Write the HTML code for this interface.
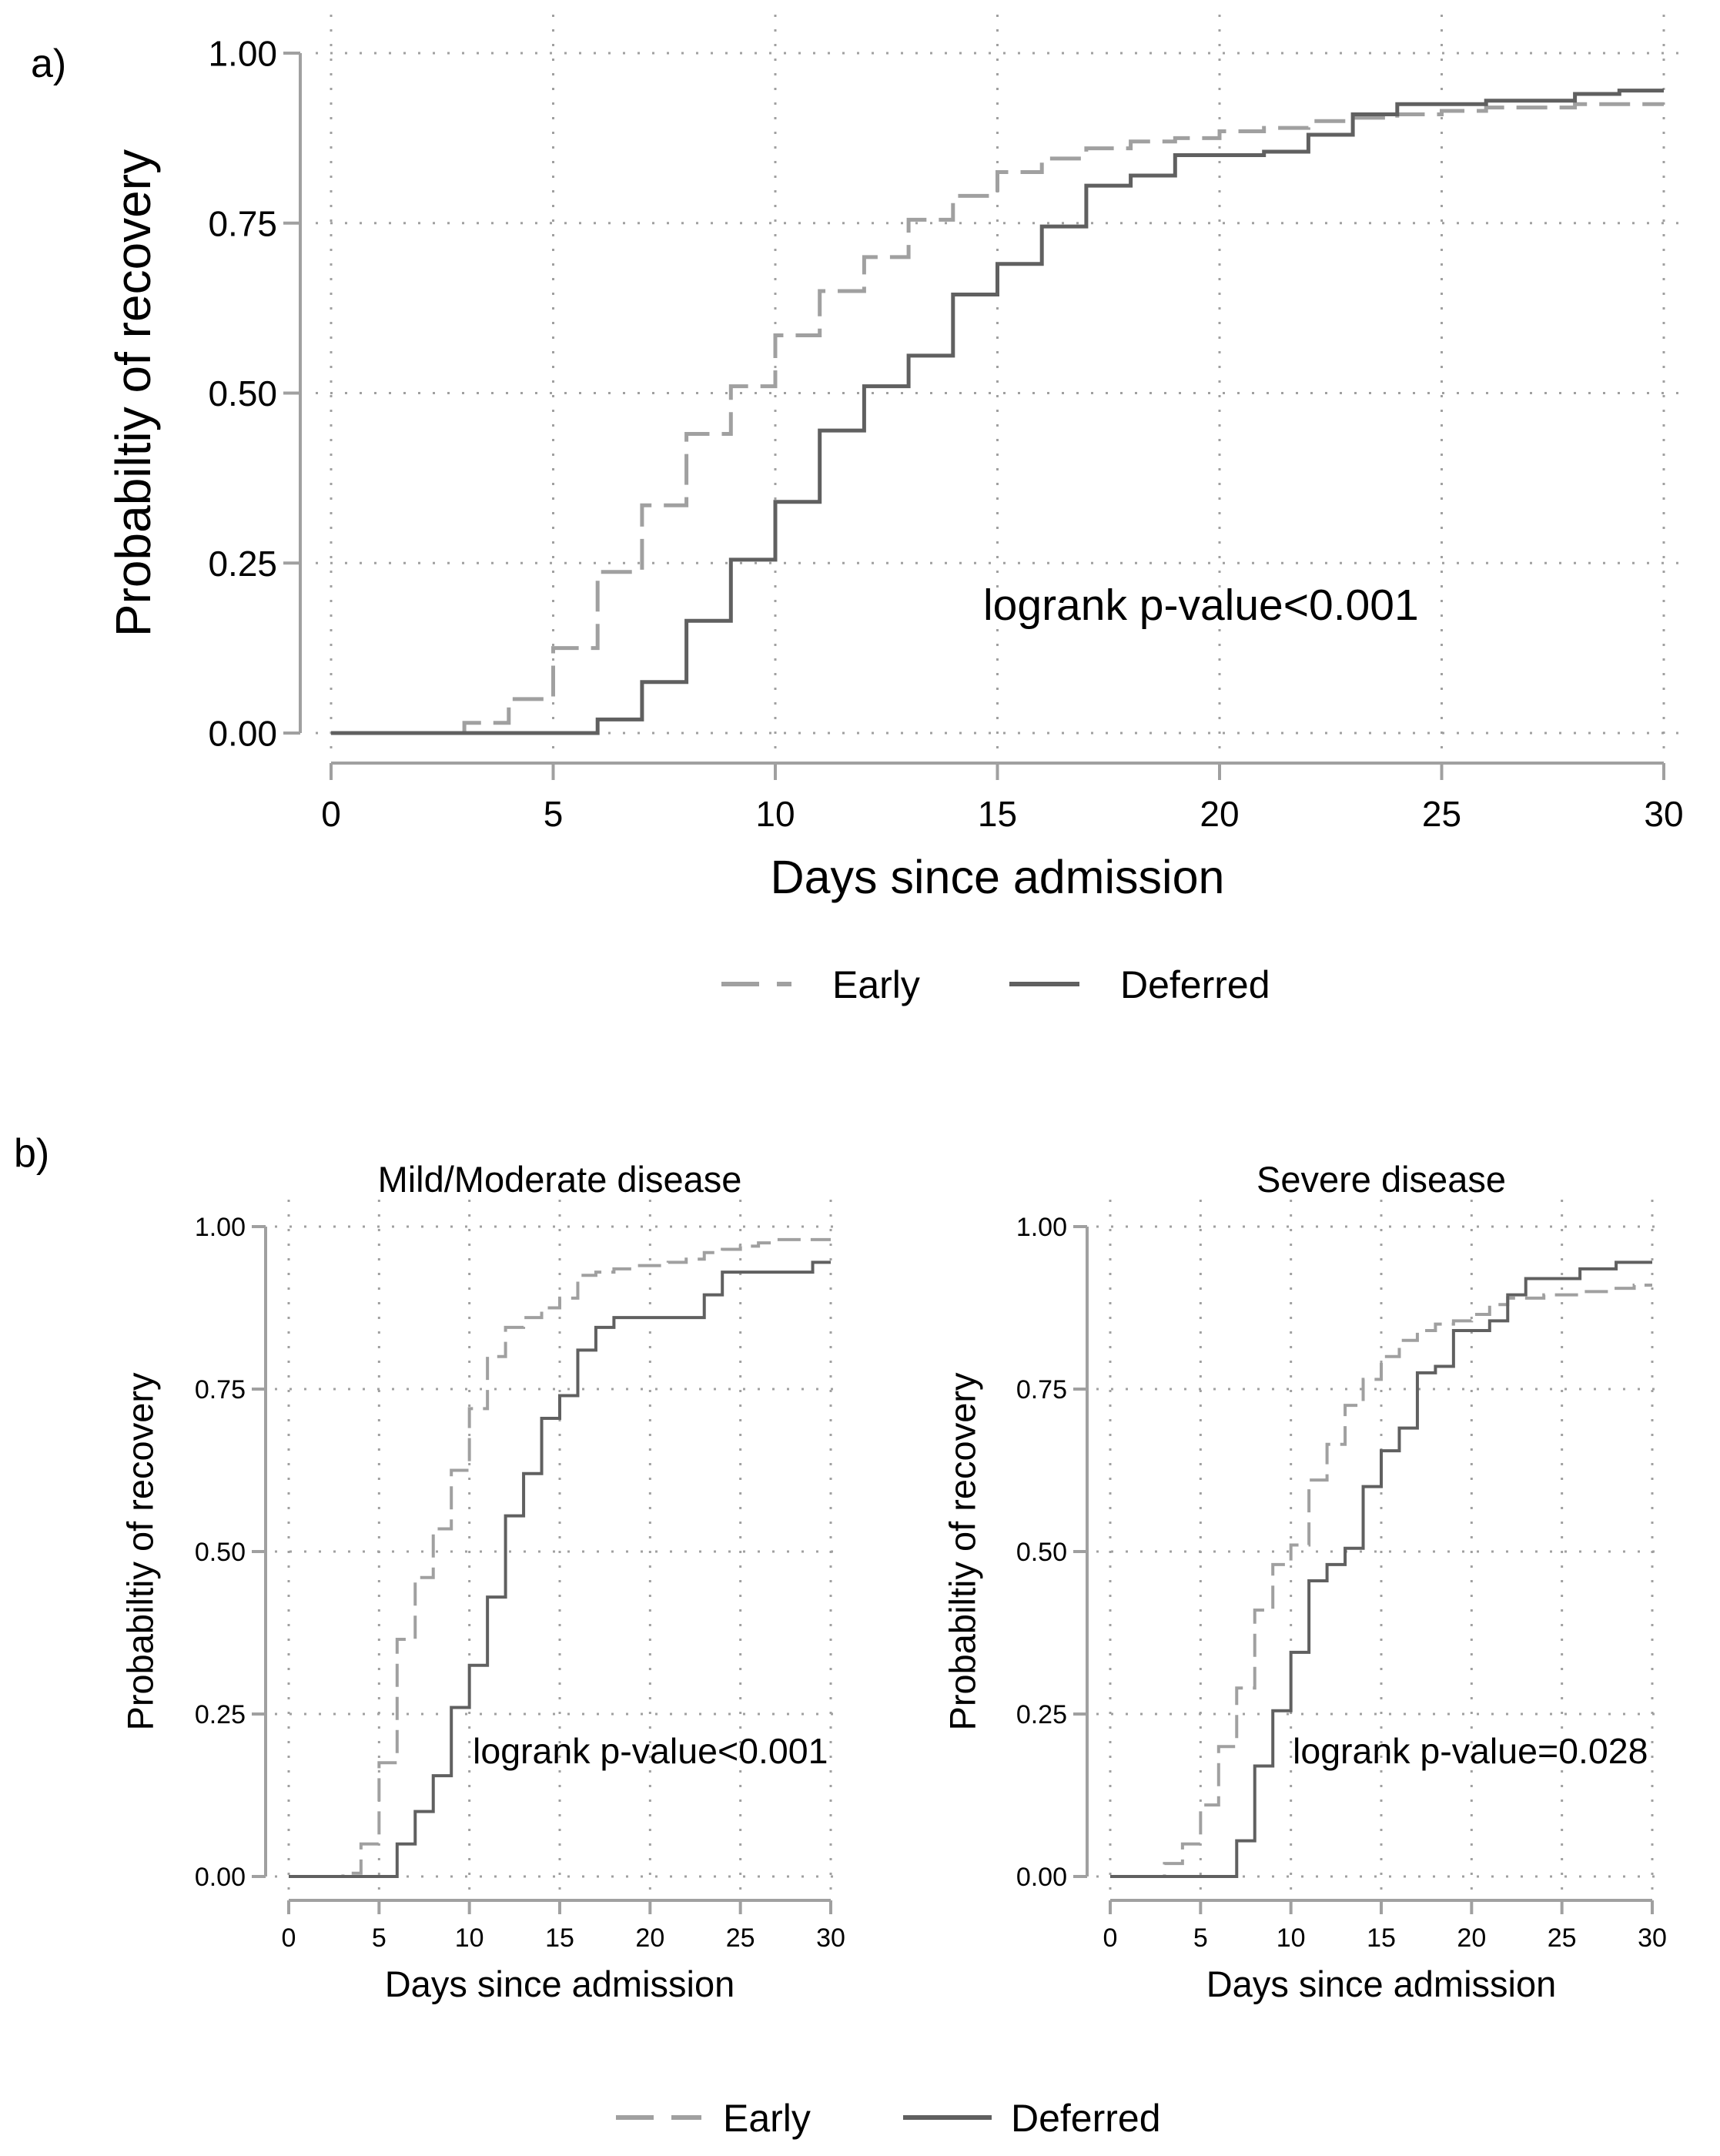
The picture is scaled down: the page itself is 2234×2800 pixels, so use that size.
<!DOCTYPE html>
<html><head><meta charset="utf-8"><style>
html,body{margin:0;padding:0;background:#fff}
svg{display:block}
text{font-family:"Liberation Sans",Arial,sans-serif;fill:#000}
</style></head><body>
<svg id="fig" width="2234" height="2800" viewBox="0 0 2234 2800" xmlns="http://www.w3.org/2000/svg"></svg>
<script>
const days = [0,1,2,3,4,5,6,7,8,9,10,11,12,13,14,15,16,17,18,19,20,21,22,23,24,25,26,27,28,29,30];
const yTicks = [0, 0.25, 0.5, 0.75, 1];
const yTickLabels = ["0.00","0.25","0.50","0.75","1.00"];
const xTicks = [0,5,10,15,20,25,30];
const xTickLabels = ["0","5","10","15","20","25","30"];
const aEarly = [0,0,0,0.015,0.05,0.125,0.237,0.335,0.44,0.51,0.585,0.65,0.70,0.755,0.79,0.825,0.845,0.86,0.87,0.875,0.885,0.89,0.90,0.905,0.91,0.915,0.92,0.92,0.925,0.925,0.925];
const aDeferred = [0,0,0,0,0,0,0.02,0.075,0.165,0.255,0.34,0.445,0.51,0.555,0.645,0.69,0.745,0.805,0.82,0.85,0.85,0.855,0.88,0.91,0.925,0.925,0.93,0.93,0.94,0.945,0.945];
const mildEarly = [0,0,0,0.005,0.05,0.175,0.365,0.46,0.535,0.625,0.72,0.80,0.845,0.86,0.875,0.89,0.925,0.93,0.935,0.94,0.94,0.945,0.95,0.96,0.965,0.97,0.975,0.98,0.98,0.98,0.98];
const mildDeferred = [0,0,0,0,0,0,0.05,0.10,0.155,0.26,0.325,0.43,0.555,0.62,0.705,0.74,0.81,0.845,0.86,0.86,0.86,0.86,0.86,0.895,0.93,0.93,0.93,0.93,0.93,0.945,0.945];
const sevEarly = [0,0,0,0.02,0.05,0.11,0.20,0.29,0.41,0.48,0.51,0.61,0.665,0.725,0.765,0.80,0.825,0.84,0.85,0.855,0.865,0.88,0.89,0.89,0.895,0.895,0.90,0.90,0.905,0.91,0.91];
const sevDeferred = [0,0,0,0,0,0,0,0.055,0.17,0.255,0.345,0.455,0.48,0.505,0.60,0.655,0.69,0.775,0.785,0.84,0.84,0.855,0.895,0.92,0.92,0.92,0.935,0.935,0.945,0.945,0.945];

const NS="http://www.w3.org/2000/svg";
const svg=document.getElementById('fig');
function mk(tag,attrs,parent){const e=document.createElementNS(NS,tag);for(const k in attrs)e.setAttribute(k,attrs[k]);(parent||svg).appendChild(e);return e;}
function txt(s,attrs,parent){const e=mk('text',attrs,parent);e.textContent=s;return e;}
const AX='#a0a0a0', EC='#a0a0a0', DC='#606060';

function panel(p){
  const g=mk('g',{});
  
  
  const sx=v=>p.x0+(p.x1-p.x0)*v/30;
  const sy=v=>p.y0+(p.y1-p.y0)*v;
  yTicks.forEach(t=>{const l=mk('line',{x1:sx(0)-p.gpad,x2:sx(30)+p.gpad,y1:sy(t),y2:sy(t),stroke:AX,'stroke-width':p.dot,'stroke-dasharray':p.dot+' '+p.dotGap},g);
    });
  xTicks.forEach(t=>{const l=mk('line',{x1:sx(t),x2:sx(t),y1:sy(1)-p.gtop,y2:sy(0)+p.gpad,stroke:AX,'stroke-width':p.dot,'stroke-dasharray':p.dot+' '+p.dotGap},g);
    });
  const ya=mk('line',{x1:p.yax,x2:p.yax,y1:sy(1),y2:sy(0),stroke:AX,'stroke-width':p.aw},g);
  
  const xa=mk('line',{x1:sx(0),x2:sx(30),y1:p.xax,y2:p.xax,stroke:AX,'stroke-width':p.aw},g);
  
  yTicks.forEach((t,i)=>{
    mk('line',{x1:p.yax-p.tl,x2:p.yax,y1:sy(t),y2:sy(t),stroke:AX,'stroke-width':p.aw},g);
    const e=txt(yTickLabels[i],{x:p.yax-p.tl-8,y:sy(t)+p.tf*0.36,'text-anchor':'end','font-size':p.tf},g);
    
  });
  xTicks.forEach((t,i)=>{
    mk('line',{x1:sx(t),x2:sx(t),y1:p.xax,y2:p.xax+p.tl,stroke:AX,'stroke-width':p.aw},g);
    const e=txt(xTickLabels[i],{x:sx(t),y:p.xtb,'text-anchor':'middle','font-size':p.tf},g);
    
  });
  function step(vals){let d='M'+sx(days[0])+','+sy(vals[0]);for(let i=1;i<days.length;i++){d+=' H'+sx(days[i])+' V'+sy(vals[i]);}return d;}
  const ed=mk('path',{d:step(p.early),fill:'none',stroke:EC,'stroke-width':p.lw,'stroke-dasharray':p.dash},g);
  
  const dd=mk('path',{d:step(p.deferred),fill:'none',stroke:DC,'stroke-width':p.lw},g);
  
  const yt=txt('Probabiltiy of recovery',{x:0,y:0,'text-anchor':'middle','font-size':p.yf,transform:`translate(${p.ytx},${(sy(0)+sy(1))/2}) rotate(-90)`,'dominant-baseline':'middle'},g);
  
  const xt=txt('Days since admission',{x:(sx(0)+sx(30))/2,y:p.xty,'text-anchor':'middle','font-size':p.xf},g);
  
  const lr=txt(p.logrank,{x:p.lrx,y:p.lry,'font-size':p.lf},g);
  
  if(p.title){const t=txt(p.title,{x:(sx(0)+sx(30))/2,y:p.titley,'text-anchor':'middle','font-size':p.xf},g);
    }
}
function legend(y,x1,x2,tx1,x3,x4,tx2,fs,dash){
  const g=mk('g',{});
  
  
  const a=mk('line',{x1:x1,x2:x2,y1:y,y2:y,stroke:EC,'stroke-width':6,'stroke-dasharray':dash},g);
  
  const b=txt('Early',{x:tx1,y:y+fs*0.36,'font-size':fs},g);
  
  const c=mk('line',{x1:x3,x2:x4,y1:y,y2:y,stroke:DC,'stroke-width':6},g);
  
  const d=txt('Deferred',{x:tx2,y:y+fs*0.36,'font-size':fs},g);
  
}

const la=txt('a)',{x:40,y:100,'font-size':52});

panel({name:'panel-a-chart',x0:430,x1:2161,y0:952,y1:69,yax:390,xax:991,tl:22,aw:4,tf:46,xtb:1073,
  yf:64,xf:61,lf:57,ytx:178,xty:1160,lrx:1277,lry:805,logrank:'logrank p-value<0.001',early:aEarly,deferred:aDeferred,
  lw:5,dash:'40 16',dot:3,dotGap:16,gpad:20,gtop:50});
legend(1278,937,1028,1081,1311,1402,1455,50,'49 23');

const lb=txt('b)',{x:18,y:1515,'font-size':52});

panel({name:'mild-moderate-chart',x0:375,x1:1079,y0:2437,y1:1593,yax:345,xax:2468,tl:18,aw:4,tf:34,xtb:2528,
  yf:47,xf:47,lf:46.5,ytx:186,xty:2593,lrx:614,lry:2290,logrank:'logrank p-value<0.001',title:'Mild/Moderate disease',titley:1548,
  early:mildEarly,deferred:mildDeferred,lw:4,dash:'30 13',dot:3,dotGap:16,gpad:18,gtop:35});
panel({name:'severe-chart',x0:1442,x1:2146,y0:2437,y1:1593,yax:1412,xax:2468,tl:18,aw:4,tf:34,xtb:2528,
  yf:47,xf:47,lf:46.5,ytx:1254,xty:2593,lrx:1679,lry:2290,logrank:'logrank p-value=0.028',title:'Severe disease',titley:1548,
  early:sevEarly,deferred:sevDeferred,lw:4,dash:'30 13',dot:3,dotGap:16,gpad:18,gtop:35});
legend(2750,800,911,939,1173,1288,1313,50,'49 23');
</script>
</body></html>
